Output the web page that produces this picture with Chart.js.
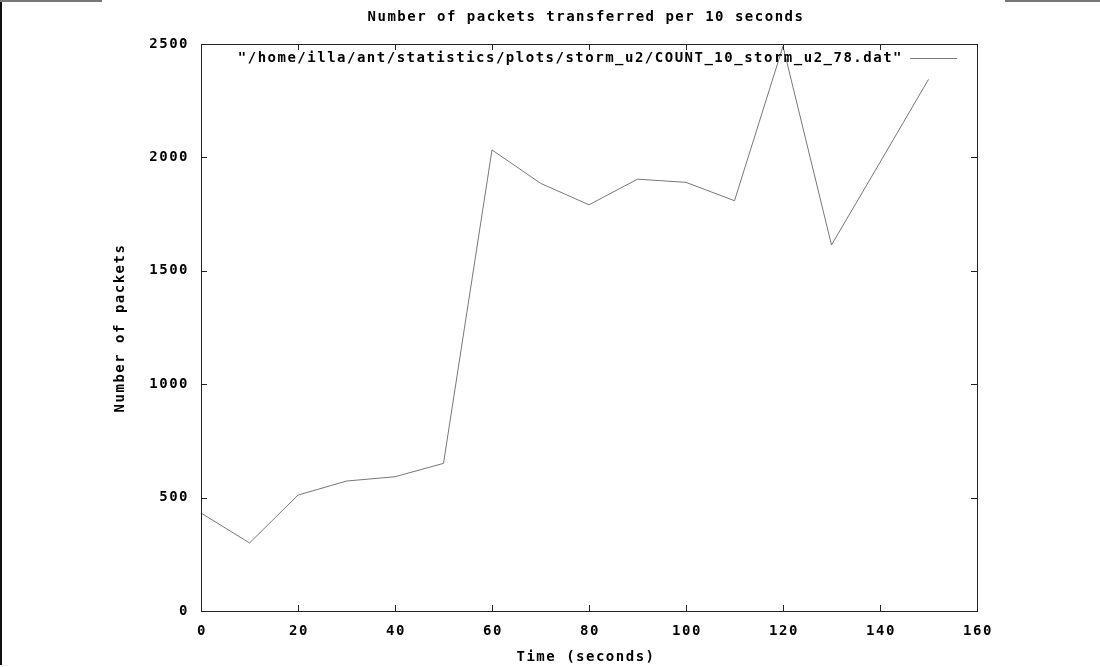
<!DOCTYPE html>
<html>
<head>
<meta charset="utf-8">
<script src="https://cdn.jsdelivr.net/npm/chart.js@4"></script>
<style>
  html, body { margin: 0; padding: 0; background: #fff; }
  #wrap { position: relative; width: 1100px; height: 667px; }
  .edge { position: absolute; }
</style>
</head>
<body>
<div id="wrap">
  <canvas id="chart" width="1100" height="667"></canvas>
  <div class="edge" style="left:0;top:0;width:2px;height:665px;background:#111"></div>
  <div class="edge" style="left:0;top:0;width:102px;height:2px;background:#777"></div>
  <div class="edge" style="left:1005px;top:0;width:95px;height:2px;background:#777"></div>
</div>
<script>
// packets counted per 10 second window
const times = [0, 10, 20, 30, 40, 50, 60, 70, 80, 90, 100, 110, 120, 130, 140, 150];
const packets = [432, 300, 511, 573, 592, 651, 2033, 1886, 1791, 1904, 1890, 1809, 2490, 1614, 1978, 2344];

const xTicks = [0, 20, 40, 60, 80, 100, 120, 140, 160];
const yTicks = [0, 500, 1000, 1500, 2000, 2500];

const titleText = "Number of packets transferred per 10 seconds";
const xTitle = "Time (seconds)";
const yTitle = "Number of packets";
const seriesName = '"/home/illa/ant/statistics/plots/storm_u2/COUNT_10_storm_u2_78.dat"';

const FONT = "bold 14px 'DejaVu Sans Mono'";

// gnuplot-like frame, inward mirrored ticks, labels and key
const gnuplotLook = {
    id: "gnuplotLook",
    afterDraw(chart) {
        const ctx = chart.ctx;
        const a = chart.chartArea;
        const xs = chart.scales.x;
        const ys = chart.scales.y;
        ctx.save();
        ctx.strokeStyle = "#222";
        ctx.lineWidth = 1;
        ctx.strokeRect(a.left + 0.5, a.top + 0.5, a.right - a.left, a.bottom - a.top);

        ctx.font = FONT;
        ctx.letterSpacing = "1.5px";
        ctx.fillStyle = "#000";

        ctx.beginPath();
        xTicks.forEach((v) => {
            const px = Math.round(xs.getPixelForValue(v)) + 0.5;
            ctx.moveTo(px, a.bottom);
            ctx.lineTo(px, a.bottom - 6);
            ctx.moveTo(px, a.top);
            ctx.lineTo(px, a.top + 6);
        });
        yTicks.forEach((v) => {
            const py = Math.round(ys.getPixelForValue(v)) + 0.5;
            ctx.moveTo(a.left, py);
            ctx.lineTo(a.left + 6, py);
            ctx.moveTo(a.right, py);
            ctx.lineTo(a.right - 6, py);
        });
        ctx.stroke();

        ctx.textBaseline = "middle";
        ctx.textAlign = "center";
        xTicks.forEach((v) => {
            ctx.fillText(String(v), xs.getPixelForValue(v) + 1, a.bottom + 20);
        });
        ctx.textAlign = "right";
        yTicks.forEach((v) => {
            ctx.fillText(String(v), a.left - 12, ys.getPixelForValue(v));
        });

        ctx.textAlign = "center";
        ctx.fillText(titleText, 586, 17);
        ctx.fillText(xTitle, 586, 657);
        ctx.save();
        ctx.translate(120, 328);
        ctx.rotate(-Math.PI / 2);
        ctx.fillText(yTitle, 0, 0);
        ctx.restore();

        // key
        ctx.textAlign = "right";
        ctx.fillText(seriesName, 903, 58);
        ctx.strokeStyle = "#777";
        ctx.beginPath();
        ctx.moveTo(910, 58.5);
        ctx.lineTo(957, 58.5);
        ctx.stroke();
        ctx.restore();
    },
};

new Chart(document.getElementById("chart"), {
    type: "line",
    data: {
        datasets: [
            {
                label: seriesName,
                data: times.map((t, i) => ({ x: t, y: packets[i] })),
                borderColor: "#777",
                borderWidth: 1,
                pointRadius: 0,
                fill: false,
                tension: 0,
            },
        ],
    },
    options: {
        responsive: false,
        animation: false,
        layout: { padding: { left: 201, right: 123, top: 44, bottom: 56 } },
        plugins: {
            legend: { display: false },
            tooltip: { enabled: false },
        },
        scales: {
            x: { type: "linear", min: 0, max: 160, display: false },
            y: { min: 0, max: 2500, display: false },
        },
    },
    plugins: [gnuplotLook],
});
</script>
</body>
</html>
